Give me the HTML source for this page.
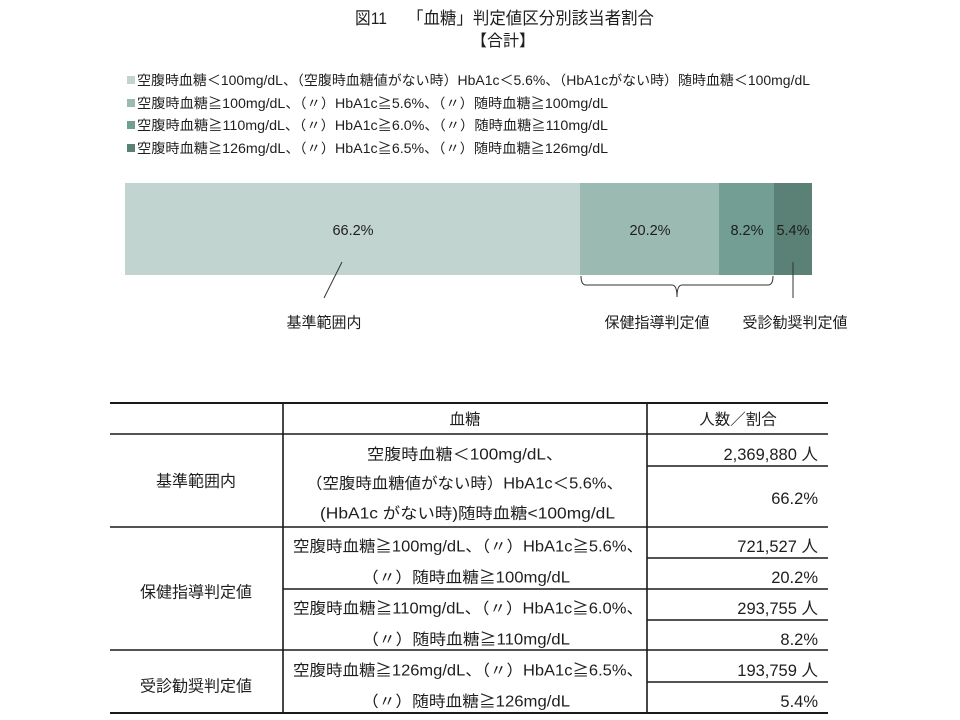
<!DOCTYPE html>
<html><head><meta charset="utf-8"><style>
html,body{margin:0;padding:0;background:#fff;}
svg{display:block;}
text{font-family:"Liberation Sans","Noto Sans CJK JP",sans-serif;fill:#1e1e1e;}
</style></head><body>
<svg width="960" height="720" viewBox="0 0 960 720" xmlns="http://www.w3.org/2000/svg">
<!-- title -->
<text x="355" y="24" font-size="17" textLength="32" lengthAdjust="spacingAndGlyphs">図11</text>
<text x="407" y="24" font-size="17" textLength="247" lengthAdjust="spacingAndGlyphs">「血糖」判定値区分別該当者割合</text>
<text x="503" y="46" font-size="16" text-anchor="middle">【合計】</text>

<!-- legend -->
<rect x="127" y="76" width="8" height="8" fill="#c2d4cf"/>
<text x="137" y="85" font-size="13.5" textLength="673" lengthAdjust="spacingAndGlyphs">空腹時血糖＜100mg/dL、（空腹時血糖値がない時）HbA1c＜5.6%、（HbA1cがない時）随時血糖＜100mg/dL</text>
<rect x="127" y="99" width="8" height="8" fill="#9bbab1"/>
<text x="137" y="108" font-size="13.5" textLength="471" lengthAdjust="spacingAndGlyphs">空腹時血糖≧100mg/dL、（〃）HbA1c≧5.6%、（〃）随時血糖≧100mg/dL</text>
<rect x="127" y="121" width="8" height="8" fill="#729e93"/>
<text x="137" y="130" font-size="13.5" textLength="471" lengthAdjust="spacingAndGlyphs">空腹時血糖≧110mg/dL、（〃）HbA1c≧6.0%、（〃）随時血糖≧110mg/dL</text>
<rect x="127" y="144" width="8" height="8" fill="#5b8176"/>
<text x="137" y="153" font-size="13.5" textLength="471" lengthAdjust="spacingAndGlyphs">空腹時血糖≧126mg/dL、（〃）HbA1c≧6.5%、（〃）随時血糖≧126mg/dL</text>

<!-- bar -->
<rect x="125" y="183" width="455" height="92" fill="#c2d4cf"/>
<rect x="580" y="183" width="139" height="92" fill="#9bbab1"/>
<rect x="719" y="183" width="55" height="92" fill="#729e93"/>
<rect x="774" y="183" width="38" height="92" fill="#5b8176"/>
<text x="353" y="235" font-size="14.5" text-anchor="middle">66.2%</text>
<text x="650" y="235" font-size="14.5" text-anchor="middle">20.2%</text>
<text x="747" y="235" font-size="14.5" text-anchor="middle">8.2%</text>
<text x="793" y="235" font-size="14.5" text-anchor="middle">5.4%</text>

<!-- annotations -->
<line x1="342" y1="262" x2="324" y2="298" stroke="#333" stroke-width="1"/>
<path d="M581,276 Q581,285 586,285 L672,285 Q677,285 677,297 Q677,285 682,285 L768,285 Q773,285 773,276" fill="none" stroke="#333" stroke-width="1"/>
<line x1="793" y1="262" x2="793" y2="298" stroke="#333" stroke-width="1"/>
<text x="324" y="327.5" font-size="15" text-anchor="middle">基準範囲内</text>
<text x="657" y="327.5" font-size="15" text-anchor="middle">保健指導判定値</text>
<text x="795" y="327.5" font-size="15" text-anchor="middle">受診勧奨判定値</text>

<!-- table lines -->
<g stroke="#1a1a1a" stroke-width="1.6">
<line x1="110" y1="403" x2="828" y2="403" stroke-width="2"/>
<line x1="110" y1="434" x2="828" y2="434"/>
<line x1="110" y1="527" x2="828" y2="527"/>
<line x1="110" y1="650" x2="828" y2="650"/>
<line x1="110" y1="713" x2="828" y2="713" stroke-width="2"/>
<line x1="283" y1="589" x2="828" y2="589"/>
<line x1="647" y1="466" x2="828" y2="466"/>
<line x1="647" y1="558" x2="828" y2="558"/>
<line x1="647" y1="620" x2="828" y2="620"/>
<line x1="647" y1="682" x2="828" y2="682"/>
<line x1="283" y1="403" x2="283" y2="713"/>
<line x1="647" y1="403" x2="647" y2="713"/>
</g>

<!-- header -->
<text x="465" y="424.5" font-size="15.5" text-anchor="middle">血糖</text>
<text x="738" y="424.5" font-size="15.5" text-anchor="middle">人数／割合</text>

<!-- left labels -->
<text x="196" y="486.5" font-size="16" text-anchor="middle">基準範囲内</text>
<text x="196" y="597.5" font-size="16" text-anchor="middle">保健指導判定値</text>
<text x="196" y="691.5" font-size="16" text-anchor="middle">受診勧奨判定値</text>

<!-- middle column -->
<text x="367" y="459.5" font-size="15.5" textLength="196" lengthAdjust="spacingAndGlyphs">空腹時血糖＜100mg/dL、</text>
<text x="306" y="488.5" font-size="15.5" textLength="317" lengthAdjust="spacingAndGlyphs">（空腹時血糖値がない時）HbA1c＜5.6%、</text>
<text x="320" y="518.5" font-size="15.5" textLength="295" lengthAdjust="spacingAndGlyphs">(HbA1c がない時)随時血糖&lt;100mg/dL</text>

<text x="293" y="551.5" font-size="15.5" textLength="350" lengthAdjust="spacingAndGlyphs">空腹時血糖≧100mg/dL、（〃）HbA1c≧5.6%、</text>
<text x="362" y="582.5" font-size="15.5" textLength="208" lengthAdjust="spacingAndGlyphs">（〃）随時血糖≧100mg/dL</text>

<text x="293" y="613.5" font-size="15.5" textLength="350" lengthAdjust="spacingAndGlyphs">空腹時血糖≧110mg/dL、（〃）HbA1c≧6.0%、</text>
<text x="362" y="644.5" font-size="15.5" textLength="208" lengthAdjust="spacingAndGlyphs">（〃）随時血糖≧110mg/dL</text>

<text x="293" y="675.5" font-size="15.5" textLength="350" lengthAdjust="spacingAndGlyphs">空腹時血糖≧126mg/dL、（〃）HbA1c≧6.5%、</text>
<text x="362" y="706.5" font-size="15.5" textLength="208" lengthAdjust="spacingAndGlyphs">（〃）随時血糖≧126mg/dL</text>

<!-- right column -->
<g font-size="16.5" text-anchor="end">
<text x="818" y="460">2,369,880 人</text>
<text x="818" y="504">66.2%</text>
<text x="818" y="552">721,527 人</text>
<text x="818" y="583">20.2%</text>
<text x="818" y="614">293,755 人</text>
<text x="818" y="645">8.2%</text>
<text x="818" y="676">193,759 人</text>
<text x="818" y="707">5.4%</text>
</g>
</svg>
</body></html>
